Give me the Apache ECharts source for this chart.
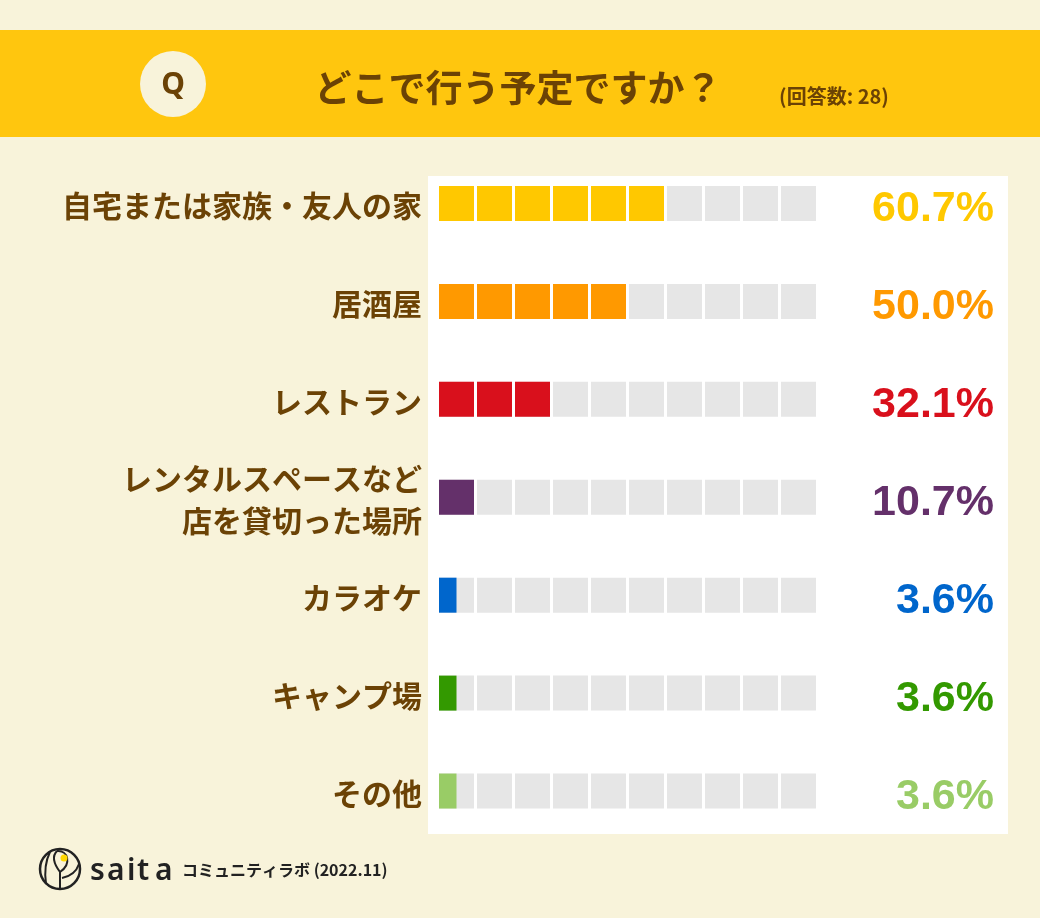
<!DOCTYPE html>
<html><head><meta charset="utf-8">
<script src="https://cdn.jsdelivr.net/npm/echarts@6/dist/echarts.min.js"></script>
<style>html,body{margin:0;padding:0;background:#f8f3da;}#c{width:1040px;height:918px;}</style>
</head><body><div id="c"></div>
<script>
const categories = ['自宅または家族・友人の家','居酒屋','レストラン','レンタルスペースなど\n店を貸切った場所','カラオケ','キャンプ場','その他'];
const values = [60.7, 50.0, 32.1, 10.7, 3.6, 3.6, 3.6];
const colors = ['#ffc800','#ff9900','#d9101c','#64306a','#0066cc','#339900','#99cc66'];
const valueLabels = ['60.7%','50.0%','32.1%','10.7%','3.6%','3.6%','3.6%'];
const cellCount = 10;

const chart = echarts.init(document.getElementById('c'));
const brown = '#6b4205';
const cjk = '"Noto Sans CJK JP", "Noto Sans", sans-serif';
const logoLine = {fill:'none', stroke:'#222', lineWidth:2};
const logoFont = '600 30px "Noto Sans", sans-serif';

const valueRich = {};
colors.forEach(function(c, i){
  valueRich['c'+i] = {color:c, fontSize:43, fontWeight:'bold', fontFamily:'"Liberation Sans", Arial, sans-serif', padding:[12,0,0,0], align:'right'};
});

chart.setOption({
  backgroundColor: '#f8f3da',
  animation: false,
  graphic: [
    {type:'rect', shape:{x:0,y:30,width:1040,height:107}, style:{fill:'#ffc60e'}},
    {type:'circle', shape:{cx:173,cy:84,r:33}, style:{fill:'#f8f3da'}},
    {type:'text', x:173, y:85, style:{text:'Q', font:'bold 30px "Noto Sans", sans-serif', fill:brown, align:'center', verticalAlign:'middle'}},
    {type:'text', x:518, y:88, style:{text:'どこで行う予定ですか？', font:'bold 37px '+cjk, fill:brown, align:'center', verticalAlign:'middle'}},
    {type:'text', x:834, y:96, style:{text:'(回答数: 28)', font:'bold 20px '+cjk, fill:brown, align:'center', verticalAlign:'middle'}},
    {type:'rect', shape:{x:428,y:176,width:580,height:658}, style:{fill:'#ffffff'}},
    // footer logo
    {type:'circle', shape:{cx:60,cy:869,r:20}, style:{fill:'none', stroke:'#222', lineWidth:2.5}},
    {type:'line', shape:{x1:60,y1:889,x2:60,y2:872}, style:logoLine},
    {type:'bezierCurve', shape:{x1:60,y1:872,x2:57,y2:851,cpx1:72,cpy1:864,cpx2:68,cpy2:850}, style:logoLine},
    {type:'bezierCurve', shape:{x1:60,y1:872,x2:57,y2:851,cpx1:54,cpy1:864,cpx2:52,cpy2:856}, style:logoLine},
    {type:'bezierCurve', shape:{x1:46,y1:884,x2:50,y2:852,cpx1:44,cpy1:870,cpx2:46,cpy2:860}, style:logoLine},
    {type:'bezierCurve', shape:{x1:62,y1:878,x2:79,y2:864,cpx1:72,cpy1:876,cpx2:77,cpy2:870}, style:logoLine},
    {type:'circle', shape:{cx:64,cy:858,r:3.5}, style:{fill:'#ffd800'}},
    {type:'text', x:90, y:871, style:{text:'s', font:logoFont, fill:'#222', verticalAlign:'middle'}},
    {type:'text', x:107, y:871, style:{text:'a', font:logoFont, fill:'#222', verticalAlign:'middle'}},
    {type:'text', x:127, y:871, style:{text:'i', font:logoFont, fill:'#222', verticalAlign:'middle'}},
    {type:'text', x:137, y:871, style:{text:'t', font:logoFont, fill:'#222', verticalAlign:'middle'}},
    {type:'text', x:155, y:871, style:{text:'a', font:logoFont, fill:'#222', verticalAlign:'middle'}},
    {type:'text', x:182, y:870, style:{text:'コミュニティラボ (2022.11)', font:'bold 16px '+cjk, fill:'#222', verticalAlign:'middle'}}
  ],
  grid: {left:439, right:221, top:154.5, bottom:78},
  xAxis: {type:'value', min:0, max:cellCount, show:false},
  yAxis: [
    {type:'category', data:categories, inverse:true,
     axisLine:{show:false}, axisTick:{show:false}, splitLine:{show:false},
     axisLabel:{margin:17, align:'right',
       formatter: function(v){ return v.split('\n').map(function(s){ return '{t|'+s+'}'; }).join('\n'); },
       rich:{t:{color:brown, fontSize:30, fontWeight:'bold', fontFamily:'Noto Sans CJK JP', lineHeight:42, padding:[5,0,0,0], align:'right'}}}},
    {type:'category', data:valueLabels, inverse:true, position:'right',
     axisLine:{show:false}, axisTick:{show:false}, splitLine:{show:false},
     axisLabel:{margin:175, align:'right',
       formatter: function(v, i){ return '{c'+i+'|'+v+'}'; },
       rich: valueRich}}
  ],
  series: [{
    type:'custom',
    data: values.map(function(v,i){ return [Math.round(v/10*2)/2, i]; }),
    encode:{x:0, y:1},
    renderItem: function(params, api){
      const filled = api.value(0);
      const idx = api.value(1);
      const unit = api.size([1,0])[0];
      const cw = unit*0.921, ch = 35;
      const children = [];
      for (let k=0;k<cellCount;k++){
        const p = api.coord([k, idx]);
        children.push({type:'rect', shape:{x:p[0], y:p[1]-ch/2, width:cw, height:ch}, style:{fill:'#e6e6e6'}});
      }
      const full = Math.floor(filled), frac = filled-full;
      for (let k=0;k<full;k++){
        const p = api.coord([k, idx]);
        children.push({type:'rect', shape:{x:p[0], y:p[1]-ch/2, width:cw, height:ch}, style:{fill:colors[idx]}});
      }
      if (frac>0){
        const p = api.coord([full, idx]);
        children.push({type:'rect', shape:{x:p[0], y:p[1]-ch/2, width:cw*frac, height:ch}, style:{fill:colors[idx]}});
      }
      return {type:'group', children:children};
    }
  }]
});
</script></body></html>
